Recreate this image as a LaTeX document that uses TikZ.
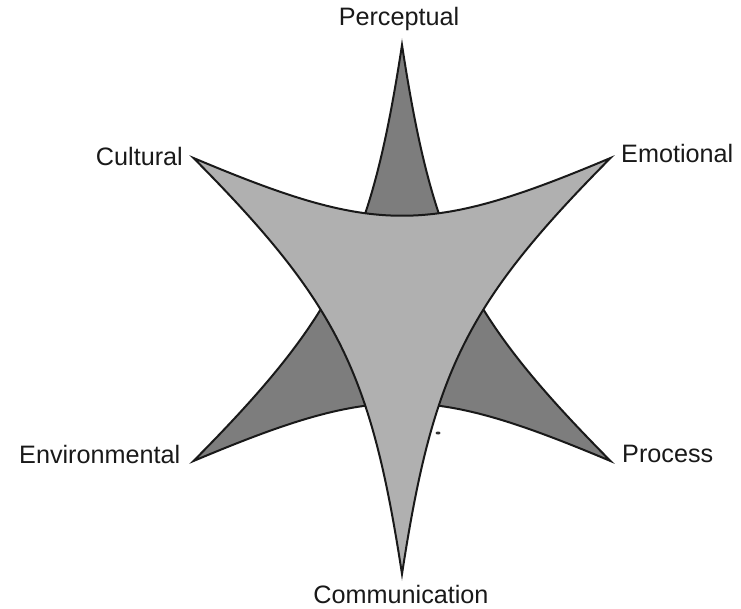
\documentclass[tikz,border=0pt]{standalone}
\usepackage{fontspec}
\setmainfont{Liberation Sans}
\newcommand\sixstarpath{(-208.5,-208) .. controls (-25.5,-131) and (25.5,-131) .. (208.5,-208) .. controls (64.2,-62.5) and (31.1,5.5) .. (0,208) .. controls (-31.1,5.5) and (-64.2,-62.5) .. (-208.5,-208) -- cycle}
\definecolor{darkfill}{gray}{0.49}
\definecolor{lightfill}{gray}{0.69}
\tikzset{
  shapeline/.style={draw=black!90, line width=2pt, line join=miter, miter limit=25},
  lbl/.style={inner sep=0pt, font=\fontsize{25.2}{30}\selectfont, text=black!90}
}
\begin{document}
\begin{tikzpicture}[x=1pt,y=-1pt]
\useasboundingbox (0,0) rectangle (741,609);
% dark triangle (behind)
\begin{scope}[shift={(402,253)}, yscale=-1]
  \filldraw[shapeline, fill=darkfill] \sixstarpath;
\end{scope}
% light triangle (front)
\begin{scope}[shift={(402,366)}]
  \filldraw[shapeline, fill=lightfill] \sixstarpath;
\end{scope}
% small mark
\fill[black!80] (438,433) ellipse (2.5 and 1.5);
% labels
\node[lbl, anchor=base] (perc) at (399,26) {Perceptual};
\node[lbl, anchor=base east] (cult) at (183,166) {Cultural};
\node[lbl, anchor=base west] (emo) at (621,163) {Emotional};
\node[lbl, anchor=base west] (env) at (19,463) {Environmental};
\node[lbl, anchor=base west] (proc) at (622,462) {Process};
\node[lbl, anchor=base] (comm) at (401,603) {Communication};
\end{tikzpicture}
\end{document}
